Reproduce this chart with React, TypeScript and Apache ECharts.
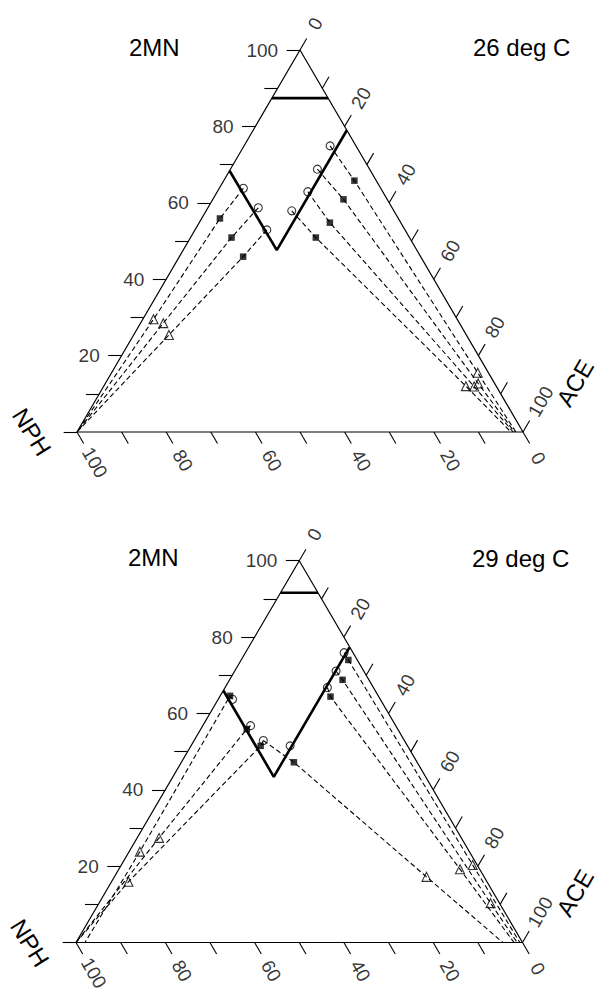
import React, { useEffect, useRef } from "react";
import * as echarts from "echarts";

// ---------- axis values ----------
const tickValues = [0, 10, 20, 30, 40, 50, 60, 70, 80, 90, 100];
const leftLabels = [20, 40, 60, 80, 100]; // 2MN
const bottomLabels = [100, 80, 60, 40, 20, 0]; // NPH
const rightLabels = [0, 20, 40, 60, 80, 100]; // ACE

// ---------- compositions: [2MN %, ACE %]; NPH = 100 - 2MN - ACE ----------
// 26 deg C
const boundary26 = [[68.4, 0], [47.6, 21.0], [79.0, 21.0]];
const cap26 = [[87.4, 0], [87.4, 12.6]];
const circles26 = [[63.8, 5.4], [58.7, 11.3], [52.9, 16.1], [74.9, 19.3], [68.8, 19.5], [62.9, 20.3], [57.9, 19.2]];
const squares26 = [[55.9, 4.1], [50.9, 9.2], [45.9, 14.3], [65.8, 29.3], [60.9, 29.3], [54.8, 29.3], [50.9, 28.1]];
const triangles26 = [[29.5, 2.4], [28.5, 5.1], [25.4, 7.9], [15.5, 82.1], [12.7, 83.6], [11.9, 83.1], [12.0, 81.2]];
const tieEnds26 = [[0, 0], [0, 0], [0, 0], [0, 98.4], [0, 98.1], [0, 97.8], [0, 97.3]];
const tieFrom26 = [0, 1, 2, 3, 4, 5, 6];

// 29 deg C
const boundary29 = [[66.0, 0], [43.4, 22.6], [77.3, 22.6]];
const cap29 = [[91.6, 0], [91.6, 8.4]];
const circles29 = [[63.7, 3.2], [56.8, 10.7], [52.9, 15.5], [75.9, 22.1], [71.1, 22.7], [66.8, 22.9], [51.5, 22.2]];
const squares29 = [[64.6, 2.2], [55.9, 10.3], [51.5, 15.6], [74.0, 24.0], [68.8, 25.3], [64.4, 24.8], [47.2, 25.2]];
const triangles29 = [[23.8, 2.4], [27.4, 4.9], [15.9, 3.8], [20.3, 78.7], [10.3, 87.7], [19.2, 76.4], [17.2, 69.9]];
const tieEnds29 = [[0, 2.0], [0, 0], [0, 0], [0, 99.4], [0, 98.8], [0, 98.1], [0, 95.6]];
const tieFrom29 = [0, 1, 2, 3, 4, 5, 2];

const SQ = Math.sqrt(3) / 2;
const toXY = (p: number[]) => [p[1] + p[0] / 2, p[0] * SQ];

const FONT = "'Liberation Sans', Arial, Helvetica, sans-serif";
const TICK = 3; // data units
const PXU = 4.44; // px per data unit (approx)

const panels = [
  {
    grid: { left: 77, top: 50, width: 446, height: 382 },
    temp: "26 deg C",
    boundary: boundary26, cap: cap26, circles: circles26, squares: squares26,
    triangles: triangles26, ends: tieEnds26, from: tieFrom26,
  },
  {
    grid: { left: 76, top: 560.7, width: 446.5, height: 381.8 },
    temp: "29 deg C",
    boundary: boundary29, cap: cap29, circles: circles29, squares: squares29,
    triangles: triangles29, ends: tieEnds29, from: tieFrom29,
  },
];

function buildSeries(p: any, gi: number) {
  const base = { xAxisIndex: gi, yAxisIndex: gi, silent: true, clip: false, animation: false };
  const series: any[] = [];
  // outline
  series.push({
    ...base, type: "line", symbol: "none",
    data: [[0, 0], [100, 0], [50, 100 * SQ], [0, 0]],
    lineStyle: { color: "#000", width: 1.2 },
  });
  // ticks
  const ticks: any[] = [];
  tickValues.forEach((t) => {
    const L = toXY([t, 0]);
    ticks.push({ coords: [L, [L[0] - TICK, L[1]]] });
    const B = [100 - t, 0];
    ticks.push({ coords: [B, [B[0] + TICK * 0.5, B[1] - TICK * SQ]] });
    const R = toXY([100 - t, t]);
    ticks.push({ coords: [R, [R[0] + TICK * 0.5, R[1] + TICK * SQ]] });
  });
  series.push({
    ...base, type: "lines", coordinateSystem: "cartesian2d", data: ticks,
    lineStyle: { color: "#000", width: 1.1, opacity: 1 },
  });
  // tie lines
  const ties = p.squares.map((s: number[], i: number) => ({
    coords: [p.circles[p.from[i]], s, p.triangles[i], p.ends[i]].map(toXY),
  }));
  series.push({
    ...base, type: "lines", coordinateSystem: "cartesian2d", polyline: true, data: ties,
    lineStyle: { color: "#000", width: 1.1, type: [5, 3], opacity: 1 },
  });
  // phase boundary
  series.push({
    ...base, type: "line", symbol: "none", data: p.boundary.map(toXY),
    lineStyle: { color: "#000", width: 2.6 },
  });
  series.push({
    ...base, type: "line", symbol: "none", data: p.cap.map(toXY),
    lineStyle: { color: "#000", width: 2.6 },
  });
  // markers
  series.push({
    ...base, type: "scatter", symbol: "circle", symbolSize: 8, data: p.circles.map(toXY),
    itemStyle: { color: "rgba(255,255,255,0)", borderColor: "#000", borderWidth: 1.1 },
  });
  series.push({
    ...base, type: "scatter", symbol: "rect", symbolSize: 6.5, data: p.squares.map(toXY),
    itemStyle: { color: "#000" },
  });
  series.push({
    ...base, type: "scatter", symbol: "triangle", symbolSize: 9, data: p.triangles.map(toXY),
    itemStyle: { color: "rgba(255,255,255,0)", borderColor: "#000", borderWidth: 1.1 },
  });
  // tick labels
  const lblStyle = { color: "#000", fontSize: 19, fontFamily: FONT };
  series.push({
    ...base, type: "scatter", symbolSize: 1, itemStyle: { color: "rgba(0,0,0,0)" },
    data: leftLabels.map((v) => {
      const P = toXY([v, 0]);
      return { name: String(v), value: [P[0] - TICK, P[1]] };
    }),
    label: { show: true, position: "left", distance: 8, formatter: "{b}", ...lblStyle },
  });
  const dist = (s: string) => (28 + 0.5 * s.length * 5) / PXU;
  series.push({
    ...base, type: "scatter", symbolSize: 1, itemStyle: { color: "rgba(0,0,0,0)" },
    data: bottomLabels.map((v) => {
      const s = String(v);
      const d = dist(s);
      return { name: s, value: [100 - v + 0.5 * d, -SQ * d] };
    }),
    label: { show: true, position: "inside", rotate: -60, align: "center", verticalAlign: "middle", formatter: "{b}", ...lblStyle },
  });
  series.push({
    ...base, type: "scatter", symbolSize: 1, itemStyle: { color: "rgba(0,0,0,0)" },
    data: rightLabels.map((v) => {
      const s = String(v);
      const d = dist(s);
      const R = toXY([100 - v, v]);
      return { name: s, value: [R[0] + 0.5 * d, R[1] + SQ * d] };
    }),
    label: { show: true, position: "inside", rotate: 60, align: "center", verticalAlign: "middle", formatter: "{b}", ...lblStyle },
  });
  return series;
}

function txt(text: string, x: number, y: number, align: string, rotation = 0) {
  return {
    type: "text", x, y, rotation, silent: true,
    style: {
      text, fill: "#000", font: `24px ${FONT}`,
      align, verticalAlign: "middle", textAlign: align, textVerticalAlign: "middle",
    },
  };
}

export default function App() {
  const ref = useRef<HTMLDivElement>(null);
  useEffect(() => {
    if (!ref.current) return;
    const chart = echarts.init(ref.current, null as any, { renderer: "svg" });
    const series: any[] = [];
    panels.forEach((p, i) => series.push(...buildSeries(p, i)));
    chart.setOption({
      animation: false,
      backgroundColor: "#fff",
      grid: panels.map((p) => ({ ...p.grid, containLabel: false })),
      xAxis: panels.map((_, i) => ({ type: "value", gridIndex: i, min: 0, max: 100, show: false })),
      yAxis: panels.map((_, i) => ({ type: "value", gridIndex: i, min: 0, max: 100 * SQ, show: false })),
      series,
      graphic: [
        txt("2MN", 129, 47, "left"),
        txt(panels[0].temp, 473, 47, "left"),
        txt("NPH", 32, 432, "center", (-58 * Math.PI) / 180),
        txt("ACE", 575, 383, "center", (60 * Math.PI) / 180),
        txt("2MN", 128, 557.5, "left"),
        txt(panels[1].temp, 472, 558, "left"),
        txt("NPH", 30, 943, "center", (-58 * Math.PI) / 180),
        txt("ACE", 575, 893, "center", (60 * Math.PI) / 180),
      ],
    });
    return () => chart.dispose();
  }, []);
  return (
    <div
      ref={ref}
      style={{ position: "absolute", left: 0, top: 0, width: 598, height: 992, background: "#fff" }}
    />
  );
}
